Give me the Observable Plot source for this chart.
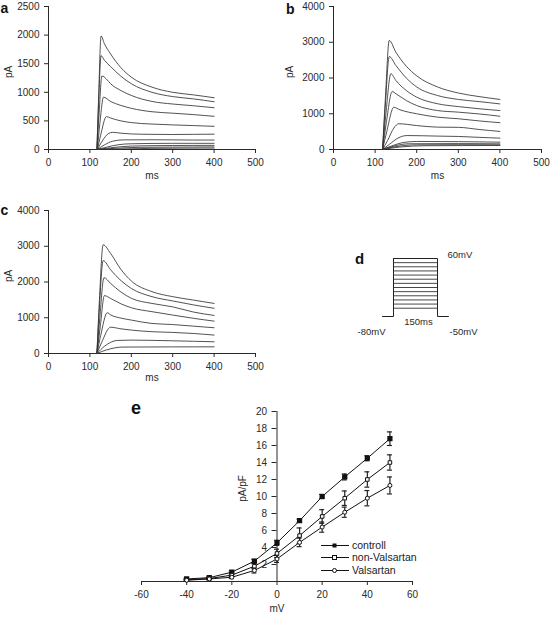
<!DOCTYPE html>
<html><head><meta charset="utf-8">
<script src="https://cdn.jsdelivr.net/npm/d3@7"></script>
<script src="https://cdn.jsdelivr.net/npm/@observablehq/plot@0.6"></script>
<style>
body{margin:0;background:#fff;}
#fig{position:relative;width:551px;height:617px;overflow:hidden;background:#fff;font-family:"Liberation Sans",Arial,Helvetica,sans-serif;color:#222;}
#fig > svg{position:absolute;max-width:none;}
.letter{position:absolute;font-weight:bold;line-height:1;color:#111;}
.lg{position:absolute;left:321px;font-size:10.5px;line-height:11px;height:11px;white-space:nowrap;display:flex;align-items:center;}
#fig .lg svg{position:static;display:block;}
</style></head><body><div id="fig"></div>
<script>
// ---------- panel a/b/c axes ----------
const msTicks = [0, 100, 200, 300, 400, 500];
const pATicksA = [0, 500, 1000, 1500, 2000, 2500];
const pATicksB = [0, 1000, 2000, 3000, 4000];
const pATicksC = [0, 1000, 2000, 3000, 4000];

// ---------- current traces [ms, pA] ----------
const tracesA = [
  [[117,0],[121,900],[127,1985],[135,1850],[150,1670],[175,1430],[200,1265],[250,1090],[300,1000],[350,955],[400,905]],
  [[117,0],[121,800],[127,1640],[135,1560],[150,1450],[175,1280],[200,1150],[250,1000],[300,925],[350,885],[400,835]],
  [[117,0],[122,600],[129,1285],[140,1230],[150,1150],[175,1030],[200,945],[250,840],[300,795],[350,765],[400,730]],
  [[118,0],[124,450],[133,915],[150,840],[175,770],[200,720],[250,660],[300,635],[350,610],[400,580]],
  [[118,0],[126,250],[140,575],[150,550],[175,500],[200,470],[250,445],[300,430],[350,418],[400,405]],
  [[118,0],[130,150],[145,280],[155,300],[175,285],[200,272],[250,265],[300,262],[350,265],[400,268]],
  [[118,0],[135,80],[155,145],[180,168],[250,170],[300,168],[350,165],[400,165]],
  [[118,0],[140,40],[170,85],[200,100],[300,108],[400,108]],
  [[118,0],[150,30],[200,60],[300,70],[400,72]],
  [[118,0],[160,20],[220,38],[300,42],[400,45]],
  [[118,0],[180,10],[250,20],[400,25]]
];
const tracesB = [
  [[118,0],[125,1500],[134,3050],[150,2720],[175,2330],[200,2060],[250,1750],[300,1580],[350,1480],[400,1400]],
  [[118,0],[125,1300],[134,2600],[150,2350],[175,2000],[200,1750],[250,1510],[300,1400],[350,1340],[400,1275]],
  [[118,0],[126,1000],[138,2120],[150,1930],[175,1650],[200,1465],[250,1280],[300,1200],[350,1140],[400,1090]],
  [[118,0],[127,750],[141,1620],[150,1560],[175,1370],[200,1230],[250,1090],[300,1045],[350,995],[400,930]],
  [[118,0],[128,500],[145,1180],[160,1110],[200,1000],[250,905],[300,860],[350,800],[400,750]],
  [[118,0],[130,250],[145,600],[157,720],[200,670],[250,625],[300,620],[350,560],[400,505]],
  [[118,0],[135,150],[155,320],[177,390],[250,375],[300,365],[350,340],[400,318]],
  [[118,0],[140,100],[170,200],[200,225],[300,220],[400,205]],
  [[118,0],[140,80],[180,160],[300,165],[400,158]],
  [[118,0],[150,80],[200,130],[300,135],[400,130]],
  [[118,0],[160,70],[220,105],[400,112]]
];
const tracesC = [
  [[117,0],[123,1500],[132,3040],[150,2800],[175,2350],[200,2030],[250,1730],[300,1590],[350,1495],[400,1400]],
  [[117,0],[123,1300],[132,2600],[150,2340],[175,2040],[200,1820],[250,1590],[300,1470],[350,1360],[400,1265]],
  [[117,0],[124,1000],[134,2120],[150,1960],[175,1720],[200,1545],[250,1400],[300,1305],[350,1160],[400,1065]],
  [[117,0],[125,750],[135,1620],[150,1540],[175,1390],[200,1280],[250,1170],[300,1075],[350,985],[400,905]],
  [[117,0],[126,500],[142,1140],[150,1080],[175,990],[200,935],[250,840],[300,810],[350,765],[400,720]],
  [[117,0],[128,300],[150,735],[175,690],[200,655],[250,610],[300,590],[350,560],[400,515]],
  [[117,0],[135,200],[166,365],[200,375],[300,355],[400,328]],
  [[117,0],[140,100],[180,180],[300,185],[400,187]]
];

// ---------- panel d: voltage protocol ----------
const stepLevels = [-60, -50, -40, -30, -20, -10, 0, 10, 20, 30, 40, 50, 60];
const holdingLevel = -80;
const protocolTimes = [0, 37.5, 187.5, 225]; // start, step on, step off (150 ms), end

// ---------- panel e: I-V relation ----------
const mV = [-40, -30, -20, -10, 0, 10, 20, 30, 40, 50];
const controll = [0.3, 0.45, 1.1, 2.4, 4.55, 7.15, 10.0, 12.3, 14.5, 16.8];
const controllErr = [0.1, 0.1, 0.15, 0.2, 0.3, 0.2, 0.25, 0.35, 0.3, 0.8];
const nonValsartan = [0.2, 0.35, 0.75, 1.8, 3.3, 5.4, 7.65, 9.8, 12.0, 14.0];
const nonValsartanErr = [0.1, 0.1, 0.15, 0.3, 0.5, 0.9, 0.8, 0.85, 0.9, 0.9];
const valsartan = [0.15, 0.3, 0.5, 1.3, 2.65, 4.6, 6.4, 8.15, 9.8, 11.3];
const valsartanErr = [0.1, 0.1, 0.15, 0.3, 0.4, 0.5, 0.6, 0.6, 0.9, 1.0];
const mVTicks = [-60, -40, -20, 0, 20, 40, 60];
const pApFTicks = [2, 4, 6, 8, 10, 12, 14, 16, 18, 20];

// ---------- rendering ----------
const fig = document.getElementById("fig");
const ink = "#2a2a2a";
const baseStyle = {fontFamily: '"Liberation Sans", Arial, Helvetica, sans-serif', fontSize: "10px", color: ink, background: "transparent", overflow: "visible"};
function place(el, left, top) { el.style.left = left + "px"; el.style.top = top + "px"; fig.appendChild(el); }
function letter(txt, left, top, size) {
  const d = document.createElement("div"); d.className = "letter"; d.textContent = txt;
  d.style.fontSize = size + "px"; place(d, left, top);
}
const toRows = traces => traces.flatMap((tr, k) => tr.map(([t, v]) => ({trace: k, t, v})));

function tracePanel(traces, yTicks, box, pAdx, msdy) {
  const svg = Plot.plot({
    width: box.w, height: box.h,
    marginLeft: box.ml, marginRight: box.mr, marginTop: box.mt, marginBottom: box.mb,
    x: {domain: [0, d3.max(msTicks)], ticks: msTicks, tickSize: 4, tickFormat: d => String(d), label: null},
    y: {domain: [0, d3.max(yTicks)], ticks: yTicks, tickSize: 4, tickFormat: d => String(d), label: null},
    style: baseStyle,
    marks: [
      Plot.ruleX([0], {stroke: ink}),
      Plot.ruleY([0], {stroke: ink}),
      Plot.line(toRows(traces), {x: "t", y: "v", z: "trace", curve: "monotone-x", stroke: "#333", strokeWidth: 0.85}),
      Plot.text(["pA"], {text: d => d, frameAnchor: "left", rotate: -90, dx: pAdx, fill: ink}),
      Plot.text(["ms"], {text: d => d, frameAnchor: "bottom", dy: msdy, fill: ink})
    ]
  });
  place(svg, box.x, box.y);
}

tracePanel(tracesA, pATicksA, {x: 0, y: 0, w: 275, h: 195, ml: 48, mr: 20, mt: 6, mb: 46}, -39.5, 29);
tracePanel(tracesB, pATicksB, {x: 275, y: 0, w: 276, h: 195, ml: 58, mr: 10, mt: 6, mb: 46}, -43.5, 29);
tracePanel(tracesC, pATicksC, {x: 0, y: 195, w: 275, h: 200, ml: 48, mr: 20, mt: 15, mb: 42}, -39.5, 27.5);

// panel d
{
  const [t0, tOn, tOff, tEnd] = protocolTimes;
  const top = d3.max(stepLevels);
  const outline = [
    {t: t0, v: holdingLevel}, {t: tOn, v: holdingLevel}, {t: tOn, v: top},
    {t: tOff, v: top}, {t: tOff, v: holdingLevel}, {t: tEnd, v: holdingLevel}
  ];
  const svg = Plot.plot({
    width: 276, height: 130, marginLeft: 107, marginRight: 103, marginTop: 28, marginBottom: 44,
    x: {domain: [t0, tEnd], axis: null},
    y: {domain: [holdingLevel, top], axis: null},
    style: {...baseStyle, fontSize: "9.5px"},
    marks: [
      Plot.ruleY(stepLevels, {x1: tOn, x2: tOff, stroke: "#333", strokeWidth: 0.9}),
      Plot.line(outline, {x: "t", y: "v", stroke: "#222", strokeWidth: 1}),
      Plot.text([top], {x: tOff, y: d => d, text: d => d + "mV", textAnchor: "start", dx: 10, dy: -4, fill: ink}),
      Plot.text([tOff - tOn], {x: (tOn + tOff) / 2, y: holdingLevel, text: d => d + "ms", dx: 3, dy: 5, fill: ink}),
      Plot.text([holdingLevel], {x: t0, y: d => d, text: d => d + "mV", dx: -11, dy: 15, fill: ink}),
      Plot.text([-50], {x: tEnd, y: holdingLevel, text: d => d + "mV", dx: 15, dy: 15, fill: ink})
    ]
  });
  place(svg, 275, 230);
}

// panel e
{
  const series = [
    {name: "controll", vals: controll, errs: controllErr},
    {name: "non-Valsartan", vals: nonValsartan, errs: nonValsartanErr},
    {name: "Valsartan", vals: valsartan, errs: valsartanErr}
  ];
  const rows = series.flatMap(s => mV.map((v, i) => ({series: s.name, mV: v, I: s.vals[i], err: s.errs[i]})));
  const of = n => rows.filter(d => d.series === n);
  const svg = Plot.plot({
    width: 451, height: 222, marginLeft: 41, marginRight: 139, marginTop: 16, marginBottom: 36,
    x: {domain: [d3.min(mVTicks), d3.max(mVTicks)], ticks: mVTicks, tickSize: 4, tickFormat: d => String(d), label: null},
    y: {domain: [0, d3.max(pApFTicks)], axis: null},
    style: baseStyle,
    marks: [
      Plot.ruleY([0], {stroke: ink}),
      Plot.ruleX([0], {stroke: ink}),
      Plot.ruleY(pApFTicks, {x1: 0, x2: 0, insetLeft: -5, stroke: ink}),
      Plot.text(pApFTicks, {x: 0, y: d => d, text: d => String(d), textAnchor: "end", dx: -10, fill: ink}),
      Plot.ruleX(rows, {x: "mV", y1: d => d.I - d.err, y2: d => d.I + d.err, stroke: "#222", strokeWidth: 1.2}),
      Plot.ruleY(rows, {x1: "mV", x2: "mV", y: d => d.I + d.err, insetLeft: -2.5, insetRight: -2.5, stroke: "#222", strokeWidth: 1.2}),
      Plot.ruleY(rows, {x1: "mV", x2: "mV", y: d => d.I - d.err, insetLeft: -2.5, insetRight: -2.5, stroke: "#222", strokeWidth: 1.2}),
      Plot.line(rows, {x: "mV", y: "I", z: "series", stroke: "#111", strokeWidth: 1}),
      Plot.dot(of("controll"), {x: "mV", y: "I", symbol: "square", r: 2.1, fill: "#111", stroke: "#111"}),
      Plot.dot(of("non-Valsartan"), {x: "mV", y: "I", symbol: "square", r: 2, fill: "#fff", stroke: "#111", strokeWidth: 1}),
      Plot.dot(of("Valsartan"), {x: "mV", y: "I", symbol: "circle", r: 2, fill: "#fff", stroke: "#111", strokeWidth: 1}),
      Plot.text(["pA/pF"], {x: 0, text: d => d, frameAnchor: "middle", rotate: -90, dx: -34, dy: -8, fill: ink}),
      Plot.text(["mV"], {text: d => d, frameAnchor: "bottom", dy: 30, fill: ink})
    ]
  });
  place(svg, 100, 395);

  // legend
  const legendRows = [
    {name: "controll", top: 539.5, marker: '<rect x="11.5" y="3.5" width="4" height="4" fill="#111"/>'},
    {name: "non-Valsartan", top: 552, marker: '<rect x="11.5" y="3.5" width="4" height="4" fill="#fff" stroke="#111"/>'},
    {name: "Valsartan", top: 564.5, marker: '<circle cx="13.5" cy="5.5" r="2" fill="#fff" stroke="#111"/>'}
  ];
  legendRows.forEach(r => {
    const d = document.createElement("div"); d.className = "lg";
    d.innerHTML = `<svg width="28" height="11" style="margin-right:3px"><line x1="0" x2="28" y1="5.5" y2="5.5" stroke="#111" stroke-width="1"/>${r.marker}</svg><span>${r.name}</span>`;
    place(d, 321, r.top);
  });
}

letter("a", 0.5, 0.5, 14);
letter("b", 286, 1.5, 14);
letter("c", 0.5, 203, 14);
letter("d", 355, 251, 15);
letter("e", 131, 399, 18);
</script></body></html>
